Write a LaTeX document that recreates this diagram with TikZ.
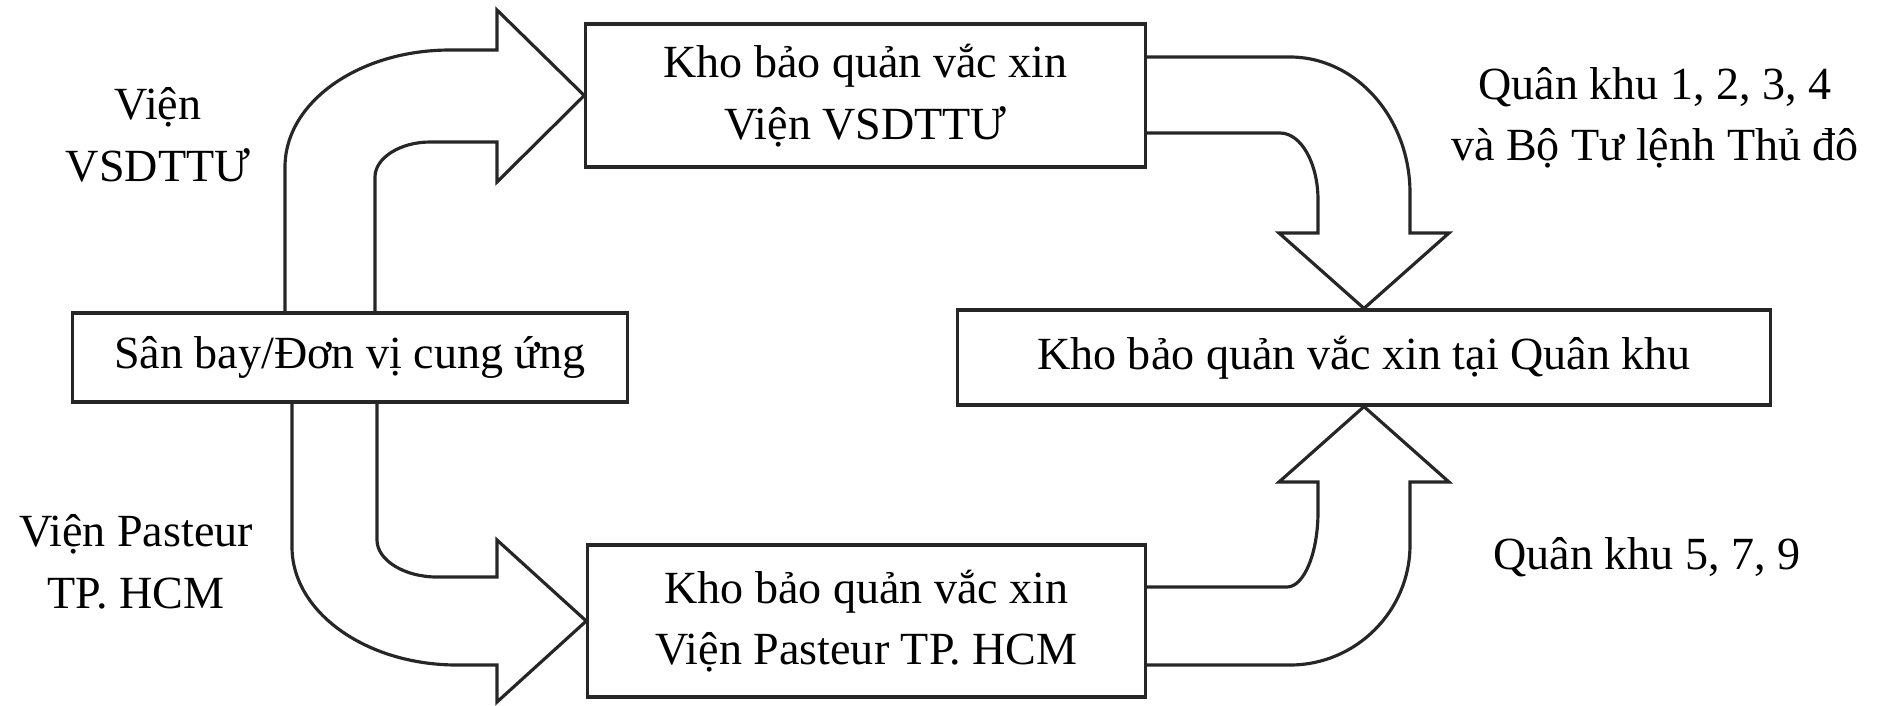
\documentclass[tikz,border=0pt]{standalone}
\usepackage{fontspec}
\setmainfont{Liberation Serif}
\tikzset{
	khobox/.style={draw=black!85,line width=.9pt,inner sep=0pt,align=center,font=\fontsize{13.1}{17.5}\selectfont},
	lbl/.style={align=center,inner sep=0pt,font=\fontsize{13.1}{17.5}\selectfont},
	bigarrow/.style={draw=black!85,line width=.9pt,line join=miter}
}
\begin{document}
\begin{tikzpicture}[x=0.01cm,y=-0.01cm]
		\useasboundingbox (0,0) rectangle (1884,705);
		\node[khobox,minimum width=5.54cm,minimum height=0.89cm] (src) at (350,357.5) {Sân bay/Đơn vị cung ứng};
		\node[khobox,minimum width=5.59cm,minimum height=1.43cm] (vsd) at (865.5,95.5) {Kho bảo quản vắc xin\\Viện VSDTTƯ};
		\node[khobox,minimum width=5.57cm,minimum height=1.52cm] (pas) at (866.5,621) {Kho bảo quản vắc xin\\Viện Pasteur TP. HCM};
		\node[khobox,minimum width=8.13cm,minimum height=0.95cm] (qk) at (1364,357.5) {Kho bảo quản vắc xin tại Quân khu};
		\draw[bigarrow] (285,313) -- (285,167) .. controls (285,102) and (359,50) .. (450,50) -- (497,50) -- (497,10) -- (vsd.west) -- (497,182) -- (497,142) -- (430,142) .. controls (400,142) and (375,158) .. (375,177) -- (375,313);
		\draw[bigarrow] (292,402) -- (292,547) .. controls (292,612) and (366,665) .. (457,665) -- (497,665) -- (497,702) -- (pas.west) -- (497,540) -- (497,577) -- (437,577) .. controls (404,577) and (377,560) .. (377,540) -- (377,402);
		\draw[bigarrow] (1145,57) -- (1290,57) .. controls (1356,57) and (1410,118) .. (1410,193) -- (1410,233) -- (1449,233) -- (qk.north) -- (1279,233) -- (1318,233) -- (1318,200) .. controls (1318,163) and (1301,133) .. (1280,133) -- (1145,133);
		\draw[bigarrow] (1145,665) -- (1290,665) .. controls (1356,665) and (1410,611) .. (1410,545) -- (1410,482) -- (1449,482) -- (qk.south) -- (1279,482) -- (1318,482) -- (1318,512) .. controls (1318,553) and (1304,587) .. (1287,587) -- (1145,587);
		\node[lbl] (lblvsd) at (158,135) {Viện\\VSDTTƯ};
		\node[lbl] (lblpas) at (136,562) {Viện Pasteur\\TP. HCM};
		\node[lbl] (lblqka) at (1655,118) {Quân khu 1, 2, 3, 4\\và Bộ Tư lệnh Thủ đô};
		\node[lbl] (lblqkb) at (1647,557) {Quân khu 5, 7, 9};
\end{tikzpicture}
\end{document}
